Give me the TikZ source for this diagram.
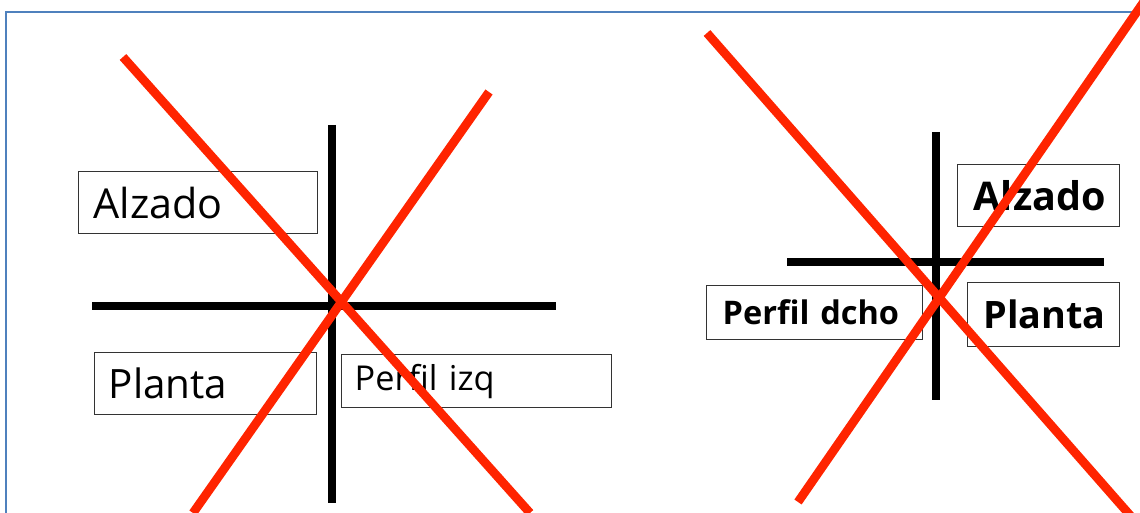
\documentclass[tikz,border=0pt]{standalone}
\usepackage{fontspec}
\setmainfont{Open Sans}
\usetikzlibrary{positioning}

\definecolor{crossred}{RGB}{255,36,0}
\definecolor{framblue}{RGB}{79,129,189}

\begin{document}
\begin{tikzpicture}[x=0.02cm, y=-0.02cm]

\tikzstyle{vbox}=[draw=black!80, line width=0.8pt, shape=rectangle, anchor=north west,
inner xsep=0.3cm, inner ysep=0pt, align=left];
\tikzstyle{axis}=[line width=4.5pt, black];
\tikzstyle{cross}=[line width=5pt, crossred];

\useasboundingbox (0,0) rectangle (1140,513);
\clip (0,0) rectangle (1140,513);

% frame
\draw[framblue, line width=1.2pt] (6,12) rectangle (1170,540);

% left: axes
\draw[axis] (332,125) -- (332,503);
\draw[axis] (92,306) -- (556,306);

\node[vbox, minimum width=4.78cm, minimum height=1.24cm, text width=4.18cm,
font=\fontsize{23.5}{27}\selectfont] (alz1) at (78,171) {Alzado};
\node[vbox, minimum width=4.44cm, minimum height=1.24cm, text width=3.88cm, inner xsep=0.28cm,
font=\fontsize{23}{27}\selectfont] (pla1) at (94,352) {Planta};
\node[vbox, minimum width=5.4cm, minimum height=1.06cm, text width=4.88cm, inner xsep=0.26cm,
font=\fontsize{19.5}{23}\selectfont] (per1) at (341,354) {Perfil izq};

% right: axes
\draw[axis] (936,132) -- (936,400);
\draw[axis] (787,262) -- (1104,262);

\node[vbox, minimum width=3.24cm, minimum height=1.24cm, text width=2.6cm, inner xsep=0.32cm,
font=\bfseries\fontsize{22.5}{26}\selectfont] (alz2) at (957,164) {Alzado};
\node[vbox, minimum width=4.32cm, minimum height=1.08cm, text width=3.68cm, inner xsep=0.32cm,
font=\bfseries\fontsize{18.5}{22}\selectfont] (per2) at (706,285) {Perfil dcho};
\node[vbox, minimum width=3.04cm, minimum height=1.28cm, text width=2.4cm, inner xsep=0.32cm,
font=\bfseries\fontsize{21.5}{25}\selectfont] (pla2) at (967,282) {Planta};

% crosses
\coordinate (l1) at (123,57);
\coordinate (l2) at (530,513);
\coordinate (l3) at (489,92);
\coordinate (l4) at (193,513);
\draw[cross] (l1) -- (l2);
\draw[cross] (l3) -- (l4);

\coordinate (r1) at (707,33);
\coordinate (r2) at (1150,538);
\coordinate (r3) at (798,502);
\coordinate (r4) at (1145,0);
\draw[cross] (r1) -- (r2);
\draw[cross] (r3) -- (r4);

\end{tikzpicture}
\end{document}
